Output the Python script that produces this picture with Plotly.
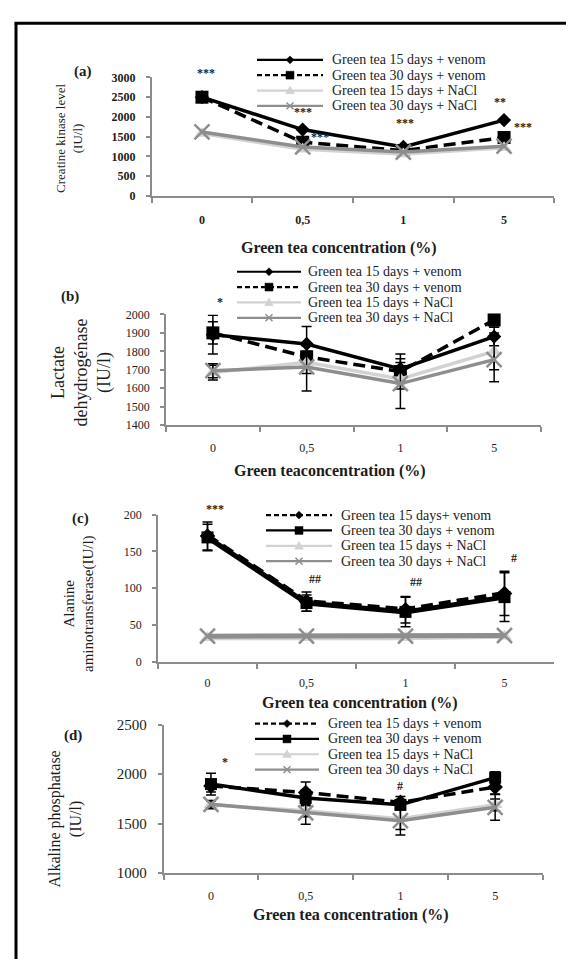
import plotly.graph_objects as go

W, H = 574, 959

# ---------------- data ----------------
CATEGORIES = ["0", "0,5", "1", "5"]

LEGEND_AB = ["Green tea 15 days + venom", "Green tea 30 days + venom",
             "Green tea 15 days + NaCl", "Green tea 30 days + NaCl"]
LEGEND_C = ["Green tea 15 days+ venom", "Green tea 30 days + venom",
            "Green tea 15 days + NaCl", "Green tea 30 days + NaCl"]
LEGEND_D = ["Green tea 15 days + venom", "Green tea 30 days + venom",
            "Green tea 15 days + NaCl", "Green tea 30 days + NaCl"]

# (a) Creatine kinase (IU/l)
CK_15_VENOM = [2500, 1680, 1240, 1920]
CK_30_VENOM = [2500, 1360, 1150, 1480]
CK_15_NACL = [1580, 1180, 1060, 1220]
CK_30_NACL = [1620, 1240, 1110, 1260]

# (b) Lactate dehydrogenase (IU/l)
LDH_15_VENOM = [1890, 1840, 1705, 1880]
LDH_30_VENOM = [1900, 1770, 1690, 1970]
LDH_15_NACL = [1685, 1740, 1650, 1800]
LDH_30_NACL = [1695, 1715, 1625, 1755]
LDH_15_VENOM_ERR = [105, 95, 80, 50]
LDH_30_VENOM_ERR = [60, 60, 50, 40]
LDH_15_NACL_ERR = [40, 60, 55, 100]
LDH_30_NACL_ERR = [38, 130, 135, 120]

# (c) Alanine aminotransferase (IU/l)
ALT_15_VENOM = [171, 82, 71, 93]
ALT_30_VENOM = [169, 80, 68, 88]
ALT_15_NACL = [33, 33, 33, 35]
ALT_30_NACL = [35, 35, 35, 36]
ALT_15_VENOM_ERR = [19, 13, 18, 30]
ALT_30_VENOM_ERR = [18, 11, 20, 33]

# (d) Alkaline phosphatase (IU/l)
ALP_15_VENOM = [1880, 1815, 1715, 1870]
ALP_30_VENOM = [1900, 1760, 1690, 1965]
ALP_15_NACL = [1690, 1630, 1550, 1690]
ALP_30_NACL = [1695, 1610, 1530, 1665]
ALP_15_VENOM_ERR = [60, 105, 60, 70]
ALP_30_VENOM_ERR = [110, 80, 50, 60]
ALP_15_NACL_ERR = [40, 60, 110, 60]
ALP_30_NACL_ERR = [40, 115, 145, 130]

# ---------------- styles ----------------
FONT = "Liberation Serif"
TXT = "#1c1c1c"
AXIS = "#8c8c8c"
BLACK = "#000000"
LIGHT = "#d2d2d2"
GRAY = "#8e8e8e"
LEGEND_FONT = 14
ROW = 15.6


def px_x(x):
    return x / W


def px_y(y):
    return 1 - y / H


def rows(center):
    return [center + (k - 1.5) * ROW for k in range(4)]


STYLES = {
    "solid-diamond": dict(color=BLACK, dash="solid", symbol="diamond", size=11),
    "dash-diamond": dict(color=BLACK, dash="12px,6px", symbol="diamond", size=12),
    "solid-square": dict(color=BLACK, dash="solid", symbol="square", size=12),
    "dash-square": dict(color=BLACK, dash="12px,6px", symbol="square", size=13),
    "light-tri": dict(color=LIGHT, dash="solid", symbol="triangle-up", size=13),
    "gray-x": dict(color=GRAY, dash="solid", symbol="x-thin", size=15),
}

PANELS = [
    dict(x0=143.6, x1=546.4, ytop=62.5, ybot=183, yrange=[0, 3000], dtick=500,
         ytick_size=12, xtick_size=12, bold_ticks=True, lw=3.5, standoff=12,
         series=[(CK_15_VENOM, None, "solid-diamond"), (CK_30_VENOM, None, "dash-square"),
                 (CK_15_NACL, None, "light-tri"), (CK_30_NACL, None, "gray-x")],
         names=LEGEND_AB,
         legend=dict(k0=249, k1=315, tx=322, rows=rows(68),
                     keys=["solid-diamond", "dash-square", "light-tri", "gray-x"]),
         letter=("(a)", 75, 56),
         ytitle=("Creatine kinase level<br>(IU/l)", 61, 125, 13),
         xtitle=("Green tea concentration (%)", 331, 236),
         marks=[("***", 198, 58), ("***", 295, 98), ("***", 397, 109),
                ("**", 492, 87), ("***", 515, 113), ("***", 312, 123)]),
    dict(x0=158, x1=533, ytop=303.5, ybot=416, yrange=[1400, 2000], dtick=100,
         ytick_size=12, xtick_size=12, bold_ticks=False, lw=3.5, standoff=11,
         series=[(LDH_15_VENOM, LDH_15_VENOM_ERR, "solid-diamond"),
                 (LDH_30_VENOM, LDH_30_VENOM_ERR, "dash-square"),
                 (LDH_15_NACL, LDH_15_NACL_ERR, "light-tri"),
                 (LDH_30_NACL, LDH_30_NACL_ERR, "gray-x")],
         names=LEGEND_AB,
         legend=dict(k0=229, k1=293, tx=298, rows=rows(283.5),
                     keys=["solid-diamond", "dash-square", "light-tri", "gray-x"]),
         letter=("(b)", 62, 285),
         ytitle=("Lactate<br>dehydrogénase<br>(IU/l)", 73.5, 363, 18),
         xtitle=("Green teaconcentration (%)", 322, 463),
         marks=[("*", 212, 291)]),
    dict(x0=150, x1=546, ytop=507, ybot=657, yrange=[0, 200], dtick=50,
         ytick_size=12, xtick_size=12, bold_ticks=False, lw=5, standoff=9,
         series=[(ALT_15_VENOM, ALT_15_VENOM_ERR, "dash-diamond"),
                 (ALT_30_VENOM, ALT_30_VENOM_ERR, "solid-square"),
                 (ALT_15_NACL, None, "light-tri"), (ALT_30_NACL, None, "gray-x")],
         names=LEGEND_C,
         legend=dict(k0=258, k1=324, tx=331, rows=rows(531),
                     keys=["dash-diamond", "solid-square", "light-tri", "gray-x"]),
         letter=("(c)", 72, 511),
         ytitle=("Alanine<br>aminotransferase(IU/l)", 71, 598, 15),
         xtitle=("Green tea concentration (%)", 352, 699),
         marks=[("***", 207, 501), ("##", 307, 573), ("##", 408, 576), ("#", 506, 551)]),
    dict(x0=155.6, x1=534.5, ytop=720.7, ybot=871.7, yrange=[1000, 2500], dtick=500,
         ytick_size=15, xtick_size=12, bold_ticks=False, lw=3.5, standoff=11,
         series=[(ALP_15_VENOM, ALP_15_VENOM_ERR, "dash-diamond"),
                 (ALP_30_VENOM, ALP_30_VENOM_ERR, "solid-square"),
                 (ALP_15_NACL, ALP_15_NACL_ERR, "light-tri"),
                 (ALP_30_NACL, ALP_30_NACL_ERR, "gray-x")],
         names=LEGEND_D,
         legend=dict(k0=247, k1=311, tx=318, rows=rows(743),
                     keys=["dash-diamond", "solid-square", "light-tri", "gray-x"]),
         letter=("(d)", 65, 732),
         ytitle=("Alkaline phosphatase<br>(IU/l)", 57.7, 816.5, 16),
         xtitle=("Green tea concentration (%)", 343, 914),
         marks=[("*", 217, 759), ("#", 392, 783)]),
]

fig = go.Figure()
shapes = []
annotations = []


def marker_shape(kind, cx, cy, color):
    if kind == "diamond":
        r = 4
        pts = [(cx - r, cy), (cx, cy - r), (cx + r, cy), (cx, cy + r)]
    elif kind == "square":
        r = 4
        pts = [(cx - r, cy - r), (cx + r, cy - r), (cx + r, cy + r), (cx - r, cy + r)]
    elif kind == "triangle-up":
        r = 4.5
        pts = [(cx, cy - r), (cx + r, cy + r * 0.75), (cx - r, cy + r * 0.75)]
    else:
        r = 3.5
        path = "M {:.5f},{:.5f} L {:.5f},{:.5f} M {:.5f},{:.5f} L {:.5f},{:.5f}".format(
            px_x(cx - r), px_y(cy - r), px_x(cx + r), px_y(cy + r),
            px_x(cx - r), px_y(cy + r), px_x(cx + r), px_y(cy - r))
        return dict(type="path", xref="paper", yref="paper", path=path,
                    line=dict(color=color, width=1.5))
    path = "M " + " L ".join("{:.5f},{:.5f}".format(px_x(a), px_y(b)) for a, b in pts) + " Z"
    return dict(type="path", xref="paper", yref="paper", path=path,
                fillcolor=color, line=dict(color=color, width=0.5))


for i, p in enumerate(PANELS):
    n = "" if i == 0 else str(i + 1)
    xa, ya = "x" + n, "y" + n
    for (vals, err, sk), name in zip(p["series"], p["names"]):
        st = STYLES[sk]
        marker = dict(symbol=st["symbol"], size=st["size"], color=st["color"])
        if st["symbol"] == "x-thin":
            marker["line"] = dict(color=st["color"], width=2.5)
        tr = go.Scatter(
            x=CATEGORIES, y=vals, xaxis=xa, yaxis=ya, name=name,
            mode="lines+markers", showlegend=False, cliponaxis=False,
            line=dict(color=st["color"], width=p["lw"], dash=st["dash"]),
            marker=marker,
        )
        if err is not None:
            tr.error_y = dict(type="data", array=err, visible=True,
                              color=BLACK, thickness=1.5, width=5)
        fig.add_trace(tr)

    tickfont = dict(family=FONT, size=p["xtick_size"], color=TXT,
                    weight="bold" if p["bold_ticks"] else "normal")
    ytickfont = dict(family=FONT, size=p["ytick_size"], color=TXT,
                     weight="bold" if p["bold_ticks"] else "normal")
    fig.update_layout(**{
        "xaxis" + n: dict(
            domain=[px_x(p["x0"]), px_x(p["x1"])], anchor=ya, type="category",
            categoryorder="array", categoryarray=CATEGORIES, range=[-0.5, 3.5],
            tickson="boundaries", ticks="outside", ticklen=5, tickcolor=AXIS, tickwidth=1.5,
            showline=True, linecolor=AXIS, linewidth=1.5, showgrid=False, zeroline=False,
            tickfont=tickfont, ticklabelstandoff=p["standoff"], fixedrange=True),
        "yaxis" + n: dict(
            domain=[px_y(p["ybot"]), px_y(p["ytop"])], anchor=xa, range=p["yrange"],
            tick0=p["yrange"][0], dtick=p["dtick"], ticks="outside", ticklen=4,
            tickcolor=AXIS, tickwidth=1.5, showline=True, linecolor=AXIS, linewidth=1.5,
            showgrid=False, zeroline=False, tickfont=ytickfont, ticklabelstandoff=8,
            fixedrange=True),
    })

    # compact legend drawn like the original figure's legend box
    lg = p["legend"]
    for row_y, key, label in zip(lg["rows"], lg["keys"], p["names"]):
        st = STYLES[key]
        dash = "solid" if st["dash"] == "solid" else "5px,3px"
        shapes.append(dict(type="line", xref="paper", yref="paper",
                           x0=px_x(lg["k0"]), x1=px_x(lg["k1"]),
                           y0=px_y(row_y), y1=px_y(row_y),
                           line=dict(color=st["color"], width=2.2, dash=dash)))
        shapes.append(marker_shape(st["symbol"], (lg["k0"] + lg["k1"]) / 2, row_y, st["color"]))
        annotations.append(dict(text=label, xref="paper", yref="paper",
                                x=px_x(lg["tx"]), y=px_y(row_y), xanchor="left",
                                yanchor="middle", showarrow=False,
                                font=dict(family=FONT, size=LEGEND_FONT, color=TXT)))

    t, lx, ly = p["letter"]
    annotations.append(dict(text="<b>" + t + "</b>", xref="paper", yref="paper",
                            x=px_x(lx), y=px_y(ly), xanchor="center", yanchor="middle",
                            showarrow=False, font=dict(family=FONT, size=15, color=TXT)))
    t, tx, ty, ts = p["ytitle"]
    annotations.append(dict(text=t, xref="paper", yref="paper", x=px_x(tx), y=px_y(ty),
                            xanchor="center", yanchor="middle", textangle=-90,
                            align="center", showarrow=False,
                            font=dict(family=FONT, size=ts, color=TXT)))
    t, tx, ty = p["xtitle"]
    annotations.append(dict(text="<b>" + t + "</b>", xref="paper", yref="paper",
                            x=px_x(tx), y=px_y(ty), xanchor="center", yanchor="middle",
                            showarrow=False, font=dict(family=FONT, size=16, color=TXT)))
    for t, mx, my in p["marks"]:
        annotations.append(dict(text="<b>" + t + "</b>", xref="paper", yref="paper",
                                x=px_x(mx), y=px_y(my), xanchor="center", yanchor="middle",
                                showarrow=False, font=dict(family=FONT, size=12, color=TXT)))

# frame lines (left and top edges of the figure border)
shapes.append(dict(type="line", xref="paper", yref="paper", x0=px_x(8), x1=px_x(8),
                   y0=px_y(7.5), y1=px_y(H + 5), line=dict(color=BLACK, width=3)))
shapes.append(dict(type="line", xref="paper", yref="paper", x0=px_x(6.5), x1=px_x(W + 5),
                   y0=px_y(7.5), y1=px_y(7.5), line=dict(color=BLACK, width=3)))

fig.update_layout(
    width=W, height=H, margin=dict(l=0, r=0, t=0, b=0),
    paper_bgcolor="white", plot_bgcolor="white", showlegend=False,
    shapes=shapes, annotations=annotations,
    font=dict(family=FONT, color=TXT),
)

fig.write_html("out.html", config={"displayModeBar": False})
